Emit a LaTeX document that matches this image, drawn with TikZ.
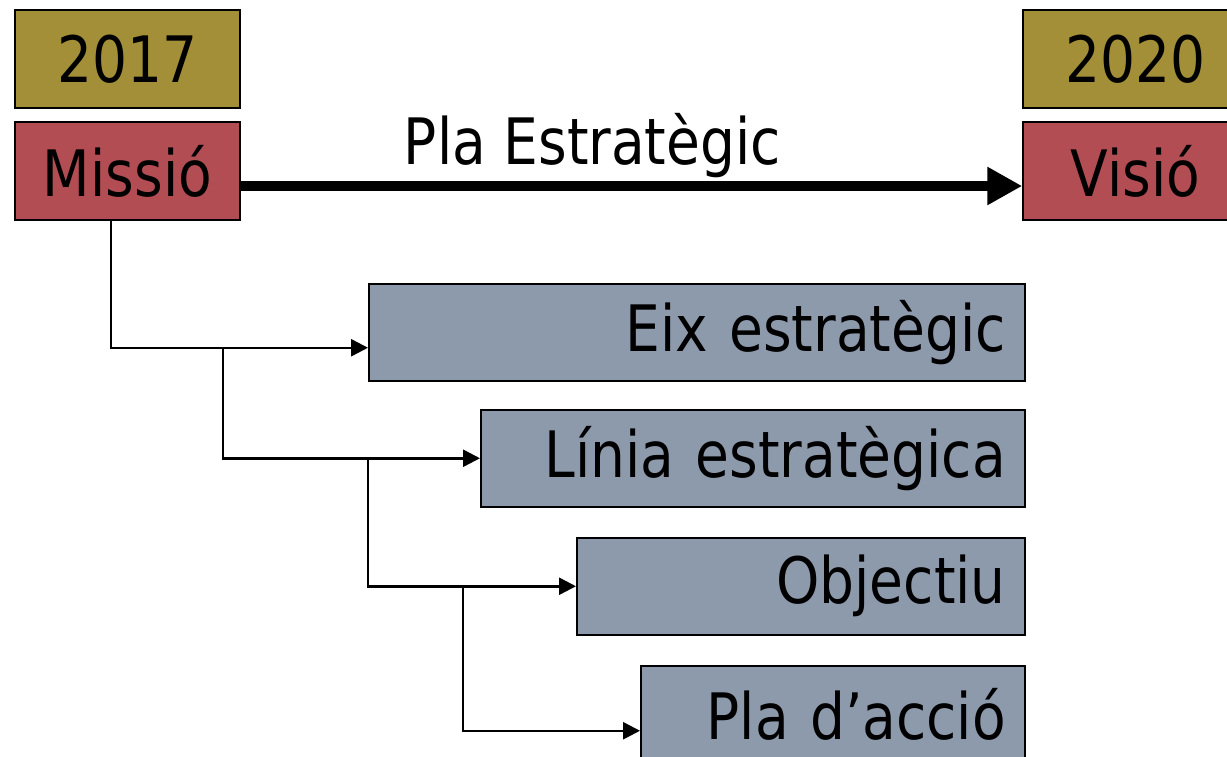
\documentclass[tikz,border=0pt]{standalone}
\usepackage{fontspec}
\setmainfont{DejaVu Sans}[FakeStretch=0.86]
\usetikzlibrary{positioning,calc,arrows.meta}

\definecolor{yearcol}{HTML}{A38F37}
\definecolor{endcol}{HTML}{B24D54}
\definecolor{levelcol}{HTML}{8D9AAC}

\tikzset{
	bigfont/.style={font=\fontsize{64}{72}\selectfont},
	yearbox/.style={draw,fill=yearcol,line width=1.5pt,minimum width=225pt,minimum height=98pt,inner sep=0pt,bigfont},
	endbox/.style={draw,fill=endcol,line width=1.5pt,minimum width=225pt,minimum height=98pt,inner sep=0pt,bigfont},
	levelbox/.style={draw,fill=levelcol,line width=1.5pt,minimum height=97pt,inner xsep=19pt,inner ysep=0pt,align=right,bigfont},
	conn/.style={line width=2.5pt,-{Triangle[length=17pt,width=17pt]}}
}

\begin{document}
\begin{tikzpicture}[x=1pt,y=-1pt]
\useasboundingbox (0,0) rectangle (1227,757);

% start and end of the plan
\node[yearbox] (y17) at (127.5,59) {2017};
\node[yearbox] (y20) at (1135.5,59) {2020};
\node[endbox] (missio) at (127.5,171) {Missió};
\node[endbox] (visio) at (1135.5,171) {Visió};

\draw[line width=10pt,-{Triangle[length=35pt,width=36pt]}]
	($(missio.east)+(0,15)$) -- node[pos=0.45,above=3pt,inner sep=0pt,bigfont](pla-est){Pla Estratègic} ($(visio.west)+(0,15)$);

% levels
\foreach \n/\l/\t/\txt in {eix/368/283/Eix estratègic,linia/480/409/Línia estratègica,obj/576/537/Objectiu,pla/640/665/Pla d’acció}{
	\pgfmathsetmacro\w{1024-\l-38}
	\node[levelbox,text width=\w pt,anchor=north west] (\n) at (\l,\t) {\txt};
}

\coordinate (b1) at ($(missio.south)+(-16.5,0)$);
\coordinate (e1) at ($(eix.west)+(0,15.5)$);
\draw[conn] (b1) |- (e1);
\draw[conn] ($(e1)+(-145,0)$) |- (linia.west);
\draw[conn] ($(linia.west)+(-112,0)$) |- (obj.west);
\draw[conn] ($(obj.west)+(-113,0)$) |- ($(pla.west)+(0,16.5)$);
\end{tikzpicture}
\end{document}
